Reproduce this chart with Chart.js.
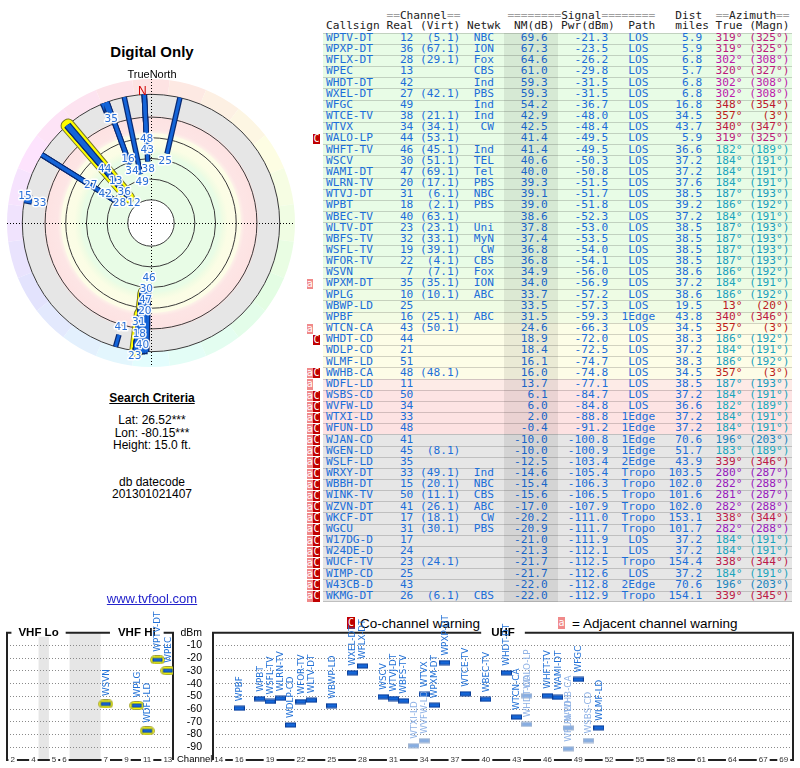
<!DOCTYPE html>
<html>
<head>
<meta charset="utf-8">
<script src="https://cdn.jsdelivr.net/npm/chart.js@4.4.1/dist/chart.umd.min.js"></script>
<style>
html,body{margin:0;padding:0;background:#fff;}
body{width:800px;height:768px;position:relative;overflow:hidden;font-family:"Liberation Sans",Arial,sans-serif;color:#000;}
.abs{position:absolute;white-space:nowrap;}
.row{position:absolute;left:323px;width:469px;box-sizing:border-box;border-top:1px solid rgba(0,0,0,0.17);}
.mono{position:absolute;left:326px;font-family:"DejaVu Sans Mono",monospace;font-size:11.17px;white-space:pre;}
.wbox{position:absolute;width:6.5px;font-family:"DejaVu Sans Mono",monospace;font-size:10px;color:#fff;text-align:center;}
canvas{position:absolute;}
.ctr{position:absolute;left:2px;width:300px;text-align:center;white-space:nowrap;}
.top{z-index:5;}
</style>
</head>
<body>
<div id="tbl"></div>

<div class="abs" style="left:347px;top:617px;width:8px;height:12px;background:#c00000;color:#fff;font-family:'DejaVu Sans Mono',monospace;font-size:10px;line-height:12px;text-align:center;">C</div>
<div class="abs" style="left:360px;top:616px;font-size:13.5px;line-height:16px;">Co-channel warning</div>
<div class="abs" style="left:558px;top:617px;width:7px;height:12px;background:#f08a8a;color:#fff;font-family:'DejaVu Sans Mono',monospace;font-size:10px;line-height:12px;text-align:center;">a</div>
<div class="abs" style="left:572px;top:616px;font-size:13.5px;line-height:16px;">= Adjacent channel warning</div>

<canvas id="polar" width="302" height="302" style="left:0;top:73px;"></canvas>
<canvas id="vhf" width="180" height="163" style="left:0;top:605px;"></canvas>
<canvas id="uhf" width="630" height="163" style="left:170px;top:605px;"></canvas>

<div class="abs top" style="left:177px;top:753px;font-size:9.5px;line-height:11.4px;">Channel</div>
<div class="ctr top" style="top:42.9px;font-size:15px;line-height:18px;font-weight:bold;">Digital Only</div>
<div class="ctr top" style="top:67.8px;font-size:11px;line-height:13.2px;">TrueNorth</div>
<div class="abs top" style="left:138px;top:83.6px;font-size:12px;line-height:14.4px;color:#d00000;">N</div>

<div class="ctr" style="top:390.9px;font-size:12px;line-height:14.4px;font-weight:bold;"><span style="text-decoration:underline;">Search Criteria</span></div>
<div class="ctr" style="top:412.9px;font-size:12px;line-height:14.4px;">Lat: 26.52***</div>
<div class="ctr" style="top:425.6px;font-size:12px;line-height:14.4px;">Lon: -80.15***</div>
<div class="ctr" style="top:437.9px;font-size:12px;line-height:14.4px;">Height: 15.0 ft.</div>
<div class="ctr" style="top:474.6px;font-size:12px;line-height:14.4px;">db datecode</div>
<div class="ctr" style="top:486.9px;font-size:12px;line-height:14.4px;">201301021407</div>
<div class="ctr" style="top:590.6px;font-size:13px;line-height:15.6px;color:#2424cc;"><span style="text-decoration:underline;">www.tvfool.com</span></div>

<script>
// ---------------- DATA ----------------
const callsigns = ["WPTV-DT","WPXP-DT","WFLX-DT","WPEC","WHDT-DT","WXEL-DT","WFGC","WTCE-TV","WTVX","WALO-LP","WHFT-TV","WSCV","WAMI-DT","WLRN-TV","WTVJ-DT","WPBT","WBEC-TV","WLTV-DT","WBFS-TV","WSFL-TV","WFOR-TV","WSVN","WPXM-DT","WPLG","WBWP-LD","WPBF","WTCN-CA","WHDT-CD","WDLP-CD","WLMF-LD","WWHB-CA","WDFL-LD","WSBS-CD","WVFW-LD","WTXI-LD","WFUN-LD","WJAN-CD","WGEN-LD","WSLF-LD","WRXY-DT","WBBH-DT","WINK-TV","WZVN-DT","WKCF-DT","WGCU","W17DG-D","W24DE-D","WUCF-TV","WIMP-CD","W43CB-D","WKMG-DT"];
const realCh = [12,36,28,13,42,27,49,38,34,44,46,30,47,20,31,18,40,23,32,19,22,7,35,10,25,16,43,44,21,51,48,11,50,34,33,48,41,45,35,33,15,50,41,17,31,17,24,23,25,43,26];
const virtCh = ["5.1","67.1","29.1","","","42.1","","21.1","34.1","53.1","45.1","51.1","69.1","17.1","6.1","2.1","63.1","23.1","33.1","39.1","4.1","7.1","35.1","10.1","","25.1","50.1","","","","48.1","","","","","","","8.1","","49.1","20.1","11.1","26.1","18.1","30.1","","","24.1","","","6.1"];
const networks = ["NBC","ION","Fox","CBS","Ind","PBS","Ind","Ind","CW","","Ind","TEL","Tel","PBS","NBC","PBS","","Uni","MyN","CW","CBS","Fox","ION","ABC","","ABC","","","","","","","","","","","","","","Ind","NBC","CBS","ABC","CW","PBS","","","","","","CBS"];
const nmDb = [69.6,67.3,64.6,61.0,59.3,59.3,54.2,42.9,42.5,41.4,41.4,40.6,40.0,39.3,39.1,39.0,38.6,37.8,37.4,36.8,36.8,34.9,34.0,33.7,33.5,31.5,24.6,18.9,18.4,16.1,16.0,13.7,6.1,6.0,2.0,-0.4,-10.0,-10.0,-12.5,-14.6,-15.4,-15.6,-17.0,-20.2,-20.9,-21.0,-21.3,-21.7,-21.7,-22.0,-22.0];
const pwrDbm = [-21.3,-23.5,-26.2,-29.8,-31.5,-31.5,-36.7,-48.0,-48.4,-49.5,-49.5,-50.3,-50.8,-51.5,-51.7,-51.8,-52.3,-53.0,-53.5,-54.0,-54.1,-56.0,-56.9,-57.2,-57.3,-59.3,-66.3,-72.0,-72.5,-74.7,-74.8,-77.1,-84.7,-84.8,-88.8,-91.2,-100.8,-100.9,-103.4,-105.4,-106.3,-106.5,-107.9,-111.0,-111.7,-111.9,-112.1,-112.5,-112.6,-112.8,-112.9];
const paths = ["LOS","LOS","LOS","LOS","LOS","LOS","LOS","LOS","LOS","LOS","LOS","LOS","LOS","LOS","LOS","LOS","LOS","LOS","LOS","LOS","LOS","LOS","LOS","LOS","LOS","1Edge","LOS","LOS","LOS","LOS","LOS","LOS","LOS","LOS","1Edge","1Edge","1Edge","1Edge","2Edge","Tropo","Tropo","Tropo","Tropo","Tropo","Tropo","LOS","LOS","Tropo","LOS","2Edge","Tropo"];
const distMiles = [5.9,5.9,6.8,5.7,6.8,6.8,16.8,34.5,43.7,5.9,36.6,37.2,37.2,37.6,38.5,39.2,37.2,38.5,38.5,38.5,38.5,38.6,37.2,38.6,19.5,43.8,34.5,38.3,37.2,38.3,34.5,38.5,37.2,36.6,37.2,37.2,70.6,51.7,43.9,103.5,102.0,101.6,102.0,153.1,101.7,37.2,37.2,154.4,37.2,70.6,154.1];
const azTrue = [319,319,302,320,302,302,348,357,340,319,182,184,184,184,187,186,184,187,187,187,187,186,184,186,13,340,357,186,184,186,357,187,184,182,184,184,196,183,339,280,282,281,282,338,282,184,184,338,184,196,339];
const azMagn = [325,325,308,327,308,308,354,3,347,325,189,191,191,191,193,192,191,193,193,193,193,192,191,192,20,346,3,192,191,192,3,193,191,189,191,191,203,189,346,287,288,287,288,344,288,191,191,344,191,203,345];
const warnings = ["","","","","","","","","","C","","","","","","","","","","","","","a","","","","a","C","","","aC","a","aC","aC","aC","aC","aC","aC","aC","aC","aC","aC","aC","aC","aC","aC","aC","aC","aC","aC","aC"];

// axis definitions
const vhfChannels = [2,3,4,5,6,7,8,9,10,11,12,13];
const vhfSlots    = [0,1,2,4,5,9,10,11,12,13,14,15];
const vhfTickChannels = [2,4,5,6,7,9,11,13];
const uhfTickChannels = [14,16,19,22,25,28,31,34,37,40,43,46,49,52,55,58,61,64,67,69];
const dbmTicks = [0,-10,-20,-30,-40,-50,-60,-70,-80,-90,-100];
const polarRings = [80,60,40,20,0,-22];

// ---------------- STYLE HELPERS ----------------
const zoneAnchors = [[80,[232,252,230]],[36,[232,252,230]],[33,[240,252,227]],[28,[251,253,229]],[16.1,[253,253,231]],[15,[253,240,232]],[12,[253,229,229]],[-0.5,[253,226,226]],[-1.5,[230,230,230]],[-22,[230,230,230]]];
function zoneColor(v){
  if (v >= zoneAnchors[0][0]) return zoneAnchors[0][1];
  for (let k=0;k<zoneAnchors.length-1;k++){
    const [a,ca]=zoneAnchors[k],[b,cb]=zoneAnchors[k+1];
    if (v<=a && v>=b){ const t=(a-v)/(a-b); return ca.map((c,j)=>Math.round(c+(cb[j]-c)*t)); }
  }
  return zoneAnchors[zoneAnchors.length-1][1];
}
const rgb = c => `rgb(${c[0]},${c[1]},${c[2]})`;
function azHue(t){ return t < 40 ? (350 + t*0.5) % 360 : t + 5; }
const azColor = t => `hsl(${azHue(t)},76%,42%)`;

// ---------------- TABLE ----------------
(function buildTable(){
  const tbl=document.getElementById('tbl');
  const ROW_TOP=32.7, ROW_H=11.157;
  const padL=(s,n)=>{s=String(s);while(s.length<n)s=' '+s;return s;};
  const padR=(s,n)=>{s=String(s);while(s.length<n)s+=' ';return s;};
  const cen=(s,n)=>padR(' '.repeat(Math.floor((n-s.length)/2))+s,n);
  const g=s=>`<span style="color:#a0a0a0">${s}</span>`, d=s=>`<span style="color:#222">${s}</span>`;
  const h1=document.createElement('div'); h1.className='mono'; h1.style.top='9.5px'; h1.style.lineHeight='11px';
  h1.innerHTML=' '.repeat(9)+g('==')+d('Channel')+g('==')+' '.repeat(7)+g('========')+d('Signal')+g('========')+'   '+d('Dist')+'  '+g('==')+d('Azimuth')+g('==');
  tbl.appendChild(h1);
  const h2=document.createElement('div'); h2.className='mono'; h2.style.top='20.4px'; h2.style.lineHeight='11px';
  h2.innerHTML=d('Callsign Real (Virt) Netwk  NM(dB) Pwr(dBm)  Path   miles True (Magn)');
  tbl.appendChild(h2);
  for (let i=0;i<callsigns.length;i++){
    const top=ROW_TOP+i*ROW_H;
    const row=document.createElement('div'); row.className='row';
    row.style.top=top+'px'; row.style.height=(ROW_H+0.5)+'px';
    row.style.background=rgb(zoneColor(nmDb[i]));
    if(i===callsigns.length-1) row.style.borderBottom='1px solid rgba(0,0,0,0.17)';
    tbl.appendChild(row);
    const t=document.createElement('div'); t.className='mono';
    t.style.top=(top-0.7)+'px'; t.style.lineHeight=ROW_H+'px'; t.style.height=ROW_H+'px';
    const left=padR(callsigns[i],8)+' '+padL(realCh[i],4)+' '+padL(virtCh[i]?'('+virtCh[i]+')':'',6)+' '+padL(networks[i],4)+'   '+padL(nmDb[i].toFixed(1),5)+'   '+padL(pwrDbm[i].toFixed(1),6)+'  '+cen(paths[i],5)+'  '+padL(distMiles[i].toFixed(1),5)+'  ';
    const az=padL(azTrue[i]+'°',4)+' '+padL('('+azMagn[i]+'°)',6);
    t.innerHTML=`<span style="color:#1c6ed8">${left}</span><span style="color:${azColor(azTrue[i])}">${az}</span>`;
    const w=warnings[i];
    if (w.includes('a')){ const b=document.createElement('div'); b.className='wbox'; b.textContent='a'; b.style.left='306.5px'; b.style.top=(top+0.8)+'px'; b.style.height=(ROW_H-1)+'px'; b.style.lineHeight=(ROW_H-1)+'px'; b.style.background='#f08a8a'; tbl.appendChild(b); }
    if (w.includes('C')){ const b=document.createElement('div'); b.className='wbox'; b.textContent='C'; b.style.left='313.2px'; b.style.top=(top+0.8)+'px'; b.style.height=(ROW_H-1)+'px'; b.style.lineHeight=(ROW_H-1)+'px'; b.style.background='#c00000'; tbl.appendChild(b); }
    tbl.appendChild(t);
  }
  const band=document.createElement('div');
  band.style.cssText=`position:absolute;left:504px;width:54px;top:${ROW_TOP}px;height:${ROW_H*callsigns.length}px;background:rgba(0,0,0,0.075);`;
  tbl.appendChild(band);
})();

// ---------------- POLAR ----------------
const CENTER_NM = 102.4;   // NM value that maps to the centre of the plot
const BASE_NM = -22;       // outer circle where bars start
const RING_U = 139.2;      // outer edge of the hue ring (radial units)
const LABEL_MIN_NM = -20;
const u = v => CENTER_NM - Math.min(v, 80);
const rad = d => d*Math.PI/180;
const pt = (v, az) => ({x: u(v)*Math.sin(rad(az)), y: u(v)*Math.cos(rad(az))});

const polarDatasets=[];
callsigns.forEach((c,i)=>{
  const seg=[pt(BASE_NM, azTrue[i]), pt(nmDb[i], azTrue[i])];
  const base={data:seg, showLine:true, pointRadius:0, pointHoverRadius:0, fill:false, tension:0};
  if (realCh[i] <= 13){
    polarDatasets.push({...base, borderColor:'#77772a', borderWidth:12, borderCapStyle:'round', order:5});
    polarDatasets.push({...base, borderColor:'#ffff00', borderWidth:10, borderCapStyle:'round', order:4});
  }
  polarDatasets.push({...base, borderColor:'#0a2a72', borderWidth:5.5, order:3});
  polarDatasets.push({...base, borderColor:'#1464d8', borderWidth:3, order:2});
});

const polarBg = {
  id:'polarBg',
  beforeDatasetsDraw(chart){
    const {ctx, scales:{x,y}} = chart;
    const cx=x.getPixelForValue(0), cy=y.getPixelForValue(0);
    const rp=v=>x.getPixelForValue(v)-cx;
    ctx.save();
    const rIn=rp(u(BASE_NM)), rOut=rp(RING_U);
    for (let s=0;s<24;s++){
      const a0=s*15-7.5, a1=a0+15;
      ctx.beginPath();
      ctx.arc(cx,cy,rOut,rad(a0-90),rad(a1-90));
      ctx.arc(cx,cy,rIn,rad(a1-90),rad(a0-90),true);
      ctx.closePath();
      ctx.fillStyle=`hsl(${s*15},85%,94%)`; ctx.fill();
    }
    const r0=rp(u(80)), r1=rIn;
    const grad=ctx.createRadialGradient(cx,cy,r0,cx,cy,r1);
    zoneAnchors.forEach(([v,c])=>{ const r=rp(u(v)); grad.addColorStop(Math.max(0,Math.min(1,(r-r0)/(r1-r0))), rgb(c)); });
    ctx.beginPath(); ctx.arc(cx,cy,r1,0,Math.PI*2); ctx.fillStyle=grad; ctx.fill();
    ctx.beginPath(); ctx.arc(cx,cy,r0,0,Math.PI*2); ctx.fillStyle='#fff'; ctx.fill();
    ctx.strokeStyle='#3a3a3a'; ctx.lineWidth=1;
    polarRings.forEach(v=>{ ctx.beginPath(); ctx.arc(cx,cy,rp(u(v)),0,Math.PI*2); ctx.stroke(); });
    ctx.setLineDash([1,2]); ctx.strokeStyle='#000';
    ctx.beginPath(); ctx.moveTo(cx-rOut,cy+0.5); ctx.lineTo(cx+rOut,cy+0.5); ctx.moveTo(cx+0.5,cy-rOut); ctx.lineTo(cx+0.5,cy+rOut); ctx.stroke();
    ctx.restore();
  }
};

const polarLabels = {
  id:'polarLabels',
  afterDatasetsDraw(chart){
    const {ctx, scales:{x,y}} = chart;
    const cx=x.getPixelForValue(0), cy=y.getPixelForValue(0);
    const k=(x.getPixelForValue(100)-cx)/100;
    ctx.save();
    ctx.font='10.5px "DejaVu Sans"'; ctx.textAlign='center'; ctx.textBaseline='middle';
    ctx.lineJoin='round';
    const placed=[];
    const idx=callsigns.map((_,i)=>i).filter(i=>nmDb[i]>LABEL_MIN_NM).sort((a,b)=>nmDb[b]-nmDb[a]);
    idx.forEach(i=>{
      const txt=String(realCh[i]);
      const w=ctx.measureText(txt).width+1, h=11;
      const a=rad(azTrue[i]);
      let r=u(nmDb[i])*k-8;
      while (r<=138){
        const px=cx+r*Math.sin(a), py=cy-r*Math.cos(a);
        const b={l:px-w/2,t:py-h/2,r:px+w/2,b:py+h/2};
        if(!placed.some(q=>b.l<q.r&&b.r>q.l&&b.t<q.b&&b.b>q.t)){
          placed.push(b);
          ctx.lineWidth=3; ctx.strokeStyle='rgba(255,255,255,0.95)'; ctx.strokeText(txt,px,py);
          ctx.fillStyle='#2a70d8'; ctx.fillText(txt,px,py);
          break;
        }
        r+=0.5;
      }
    });
    ctx.restore();
  }
};

new Chart(document.getElementById('polar'), {
  type:'scatter',
  data:{datasets:polarDatasets},
  options:{
    responsive:false, animation:false, events:[],
    layout:{padding:{left:7,right:7,top:6,bottom:8}},
    plugins:{legend:{display:false},tooltip:{enabled:false}},
    scales:{
      x:{type:'linear',min:-RING_U,max:RING_U,display:false},
      y:{type:'linear',min:-RING_U,max:RING_U,display:false}
    }
  },
  plugins:[polarBg, polarLabels]
});

// ---------------- SIGNAL CHARTS ----------------
function roundRectPath(g,x,y,w,h,r){ g.beginPath(); g.moveTo(x+r,y); g.arcTo(x+w,y,x+w,y+h,r); g.arcTo(x+w,y+h,x,y+h,r); g.arcTo(x,y+h,x,y,r); g.arcTo(x,y,x+w,y,r); g.closePath(); }
function markerImg(kind){
  const c=document.createElement('canvas'); const g=c.getContext('2d');
  if (kind==='vhf'){
    c.width=15; c.height=9;
    roundRectPath(g,0.5,0.5,14,8,4); g.fillStyle='#ffff00'; g.fill(); g.strokeStyle='#a0a040'; g.lineWidth=1; g.stroke();
    g.fillStyle='#0a3d96'; g.fillRect(2.5,2.5,10,4); g.fillStyle='#1466d8'; g.fillRect(3.5,3.3,8,2.4);
  } else if (kind==='dark'){
    c.width=11; c.height=6;
    g.fillStyle='#0a3d96'; g.fillRect(0,0.5,11,5); g.fillStyle='#1466d8'; g.fillRect(1,1.5,9,3);
  } else {
    c.width=11; c.height=6;
    g.fillStyle='#a3b6d2'; g.fillRect(0,0.5,11,5); g.fillStyle='#86ade2'; g.fillRect(1,1.5,9,3);
  }
  return c;
}
const slotOf = ch => vhfSlots[vhfChannels.indexOf(ch)];
const plotted = callsigns.map((_,i)=>i).filter(i=>pwrDbm[i]>=-100);
const isCo = i => warnings[i].includes('C');

const rotLabels = {
  id:'rotLabels',
  afterDatasetsDraw(chart){
    const ctx=chart.ctx;
    ctx.save();
    ctx.font='8.8px "DejaVu Sans"'; ctx.textAlign='left'; ctx.textBaseline='middle';
    chart.data.datasets.forEach((ds,di)=>{
      chart.getDatasetMeta(di).data.forEach((el,j)=>{
        ctx.save(); ctx.translate(el.x+0.5, el.y-ds.labelGap); ctx.rotate(-Math.PI/2);
        ctx.fillStyle=ds.labelColor; ctx.fillText(ds.data[j].name,0,0); ctx.restore();
      });
    });
    ctx.restore();
  }
};
const framePlugin = {
  id:'frame',
  beforeDraw(chart, args, opts){
    const {ctx, chartArea:a, scales:{x}} = chart;
    ctx.save(); ctx.fillStyle='#e6e6e6';
    (opts.bands||[]).forEach(([s0,s1])=>{ const x0=x.getPixelForValue(s0), x1=x.getPixelForValue(s1); ctx.fillRect(x0,a.top,x1-x0,a.bottom-a.top); });
    ctx.restore();
  },
  beforeDatasetsDraw(chart, args, opts){
    const {ctx, chartArea:a, scales:{x}} = chart;
    ctx.save();
    ctx.strokeStyle='#222'; ctx.lineWidth=2;
    ctx.beginPath(); ctx.moveTo(a.left,a.bottom); ctx.lineTo(a.left,a.top); ctx.lineTo(a.right,a.top); ctx.lineTo(a.right,a.bottom); ctx.stroke();
    ctx.font='bold 11.5px "Liberation Sans", Arial'; ctx.textAlign='center'; ctx.textBaseline='middle';
    (opts.titles||[]).forEach(([txt,at,pad])=>{
      const px=x.getPixelForValue(at), w=ctx.measureText(txt).width;
      ctx.fillStyle='#fff'; ctx.fillRect(px-w/2-pad,a.top-4,w+2*pad,8);
      ctx.fillStyle='#000'; ctx.fillText(txt,px,a.top+0.5);
    });
    ctx.restore();
  }
};

function yAxis(showLabels){
  return {
    type:'linear', min:-100, max:0, position:'left',
    afterBuildTicks: s => { s.ticks = dbmTicks.map(v=>({value:v})); },
    afterFit: s => { s.width = showLabels ? 43 : 0; s.paddingTop = 0; s.paddingBottom = 0; },
    grid:{drawTicks:false, lineWidth:1, color: c => (c.tick && (c.tick.value===0 || c.tick.value===-100)) ? 'rgba(0,0,0,0)' : '#8a8a8a'},
    border:{display:false, dash:[1,2]},
    ticks:{display:showLabels, autoSkip:false, padding:11, color:'#000', font:{family:'"Liberation Sans", Arial', size:10.5},
      callback: v => v===0 ? 'dBm' : (v===-100 ? '' : String(v))}
  };
}
function xAxis(min, max, tickVals, labelFn){
  return {
    type:'linear', min, max, position:'bottom',
    afterBuildTicks: s => { s.ticks = tickVals.map(v=>({value:v})); },
    afterFit: s => { s.height = 8; s.paddingLeft = 0; s.paddingRight = 0; },
    grid:{display:false, drawTicks:false},
    border:{display:true, color:'#222', width:2},
    ticks:{autoSkip:false, maxRotation:0, minRotation:0, mirror:true, padding:-4.8, color:'#333',
      font:{family:'"Liberation Sans", Arial', size:8},
      showLabelBackdrop:true, backdropColor:'#fff', backdropPadding:{x:2,y:0},
      callback: labelFn}
  };
}
const commonOpts = (padLeft, x, y, frameOpts) => ({
  responsive:false, animation:false, events:[],
  layout:{padding:{left:padLeft,right:7,top:27.7,bottom:0}},
  plugins:{legend:{display:false},tooltip:{enabled:false}, frame:frameOpts},
  scales:{x, y}
});

// VHF panel
const vhfIdx = plotted.filter(i=>realCh[i]<=13);
new Chart(document.getElementById('vhf'), {
  type:'scatter',
  data:{datasets:[{
    data: vhfIdx.map(i=>({x:slotOf(realCh[i]), y:pwrDbm[i], name:callsigns[i]})),
    pointStyle: markerImg('vhf'), pointRadius:4, labelGap:8, labelColor:'#1f6fd6'
  }]},
  options: commonOpts(7,
    xAxis(-0.55, 15.5, vhfTickChannels.map(slotOf), v => String(vhfChannels[vhfSlots.indexOf(v)])),
    yAxis(false),
    {bands:[[2.5,3.5],[5.5,8.5]], titles:[['VHF Lo',2.5,7],['VHF Hi',12,8]]}),
  plugins:[framePlugin, rotLabels]
});

// UHF panel
const uhfIdx = plotted.filter(i=>realCh[i]>=14);
new Chart(document.getElementById('uhf'), {
  type:'scatter',
  data:{datasets:[
    {data: uhfIdx.filter(i=>!isCo(i)).map(i=>({x:realCh[i], y:pwrDbm[i], name:callsigns[i]})),
     pointStyle: markerImg('dark'), pointRadius:4, labelGap:7, labelColor:'#1f6fd6'},
    {data: uhfIdx.filter(i=>isCo(i)).map(i=>({x:realCh[i], y:pwrDbm[i], name:callsigns[i]})),
     pointStyle: markerImg('light'), pointRadius:4, labelGap:7, labelColor:'#8fb2e6'}
  ]},
  options: commonOpts(0,
    xAxis(13.44, 69.9, uhfTickChannels, v => String(v)),
    yAxis(true),
    {bands:[], titles:[['UHF',41.67,10]]}),
  plugins:[framePlugin, rotLabels]
});
</script>
</body>
</html>
